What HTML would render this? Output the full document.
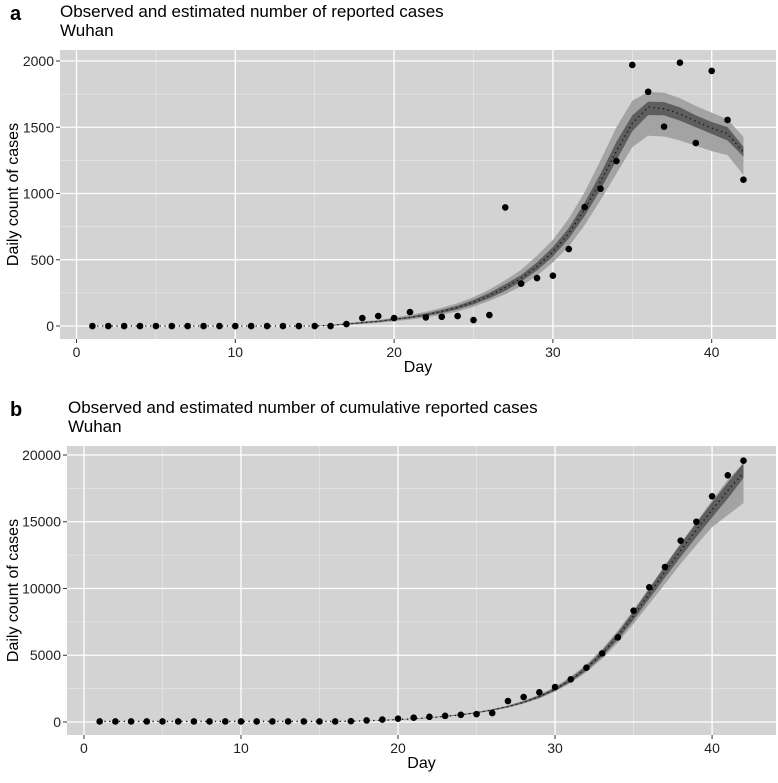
<!DOCTYPE html>
<html><head><meta charset="utf-8"><style>
body{margin:0;background:#fff;font-family:"Liberation Sans",Arial,sans-serif}
svg text{font-family:"Liberation Sans",Arial,sans-serif}
</style></head><body>
<svg id="svg" width="778" height="778" viewBox="0 0 778 778" xmlns="http://www.w3.org/2000/svg"></svg>
<script>
const days = Array.from({length:42},(_,i)=>i+1);
// Panel a: daily
const dailyObs = [0,0,0,0,0,0,0,0,0,0,0,0,0,0,0,0,15,60,75,60,105,65,70,75,45,83,895,320,362,380,581,898,1036,1245,1970,1768,1504,1987,1381,1925,1555,1104];
const dailyMean = [0,0,0,0,0,0,0,0,0,0,0,0,0,0,0,5,15,25,35,50,65,85,110,140,180,230,290,360,450,560,700,880,1090,1320,1530,1652,1640,1600,1545,1494,1450,1313];
const dailyLo95 = [0,0,0,0,0,0,0,0,0,0,0,0,0,0,0,0,8,16,24,36,48,64,84,110,145,190,240,300,380,480,600,760,950,1150,1350,1436,1430,1400,1360,1320,1290,1140];
const dailyHi95 = [0,0,0,0,0,0,0,0,0,0,0,0,0,0,0,10,22,34,46,64,84,108,138,172,218,275,345,425,530,650,810,1010,1250,1500,1700,1768,1760,1720,1660,1610,1560,1426];
const dailyLo50 = [0,0,0,0,0,0,0,0,0,0,0,0,0,0,0,3,12,20,30,44,58,76,98,126,163,210,265,335,420,525,660,830,1030,1250,1470,1592,1590,1550,1500,1450,1400,1278];
const dailyHi50 = [0,0,0,0,0,0,0,0,0,0,0,0,0,0,0,7,18,30,40,56,72,94,122,154,197,250,315,385,480,595,740,930,1150,1390,1590,1693,1690,1650,1590,1540,1500,1353];
const dailyTicksY = [0,500,1000,1500,2000];
// Panel b: cumulative
const cumObs = [41,41,41,41,41,41,41,41,41,41,41,41,41,41,41,41,60,120,180,250,320,390,460,540,590,670,1570,1870,2220,2620,3200,4070,5140,6340,8340,10090,11610,13580,15000,16906,18480,19573];
const cumMean = [41,41,41,41,41,41,41,41,41,41,41,41,41,41,41,41,60,90,130,180,240,320,420,540,700,900,1150,1480,1900,2450,3150,4030,5120,6440,7970,9610,11250,12850,14390,15890,17340,18650];
const cumLo95 = [41,41,41,41,41,41,41,41,41,41,41,41,41,41,41,41,55,82,120,166,222,296,390,500,650,835,1070,1380,1770,2280,2930,3740,4730,5950,7350,8850,10350,11850,13250,14600,15500,16400];
const cumHi95 = [41,41,41,41,41,41,41,41,41,41,41,41,41,41,41,41,65,96,140,195,260,345,455,585,760,975,1250,1600,2050,2650,3400,4330,5480,6850,8400,10050,11750,13400,15000,16600,18150,19400];
const cumLo50 = [41,41,41,41,41,41,41,41,41,41,41,41,41,41,41,41,58,86,124,172,230,305,400,515,670,860,1100,1410,1810,2340,3010,3850,4900,6170,7650,9230,10820,12370,13870,15330,16740,18280];
const cumHi50 = [41,41,41,41,41,41,41,41,41,41,41,41,41,41,41,41,62,94,136,188,250,335,440,565,730,940,1200,1550,1990,2560,3290,4210,5340,6710,8290,9990,11680,13330,14910,16450,17940,19400];
const cumTicksY = [0,5000,10000,15000,20000];
const xTicks = [0,10,20,30,40];

const svg = document.getElementById('svg');
const NS='http://www.w3.org/2000/svg';
function mk(tag,attrs,parent){const e=document.createElementNS(NS,tag);for(const k in attrs)e.setAttribute(k,attrs[k]);(parent||svg).appendChild(e);return e;}

function panel(cfg){
  const g=mk('g',{});
  
  
  const {L,R,T,B,xmin,xmax,ymin,ymax}=cfg;
  const sx=v=>L+(v-xmin)/(xmax-xmin)*(R-L);
  const sy=v=>B-(v-ymin)/(ymax-ymin)*(B-T);
  const bg=mk('rect',{x:L,y:T,width:R-L,height:B-T,fill:'#d3d3d3'},g);
  
  
  const step=cfg.yTicks[1]-cfg.yTicks[0];
  for(let v=cfg.yTicks[0]+step/2; sy(v)>T; v+=step){mk('line',{x1:L,x2:R,y1:sy(v),y2:sy(v),stroke:'#ececec','stroke-width':0.6},g);}
  for(let v=5; sx(v)<R; v+=10){mk('line',{x1:sx(v),x2:sx(v),y1:T,y2:B,stroke:'#ececec','stroke-width':0.6},g);}
  cfg.yTicks.forEach(v=>{
    mk('line',{x1:L,x2:R,y1:sy(v),y2:sy(v),stroke:'#fff','stroke-width':1.3},g);
    mk('line',{x1:L-4,x2:L,y1:sy(v),y2:sy(v),stroke:'#333','stroke-width':1},g);
    const t=mk('text',{x:L-6,y:sy(v)+5,'text-anchor':'end','font-size':14,fill:'#222'},g);t.textContent=v;
    
    
  });
  xTicks.forEach(v=>{
    mk('line',{x1:sx(v),x2:sx(v),y1:T,y2:B,stroke:'#fff','stroke-width':1.3},g);
    mk('line',{x1:sx(v),x2:sx(v),y1:B,y2:B+4,stroke:'#333','stroke-width':1},g);
    const t=mk('text',{x:sx(v),y:B+18,'text-anchor':'middle','font-size':14,fill:'#222'},g);t.textContent=v;
    
    
  });
  function band(lo,hi,fill,name){
    let d='M'+days.map((x,i)=>sx(x)+','+sy(hi[i])).join('L');
    d+='L'+days.slice().reverse().map((x,j)=>{const i=days.length-1-j;return sx(x)+','+sy(lo[i]);}).join('L')+'Z';
    const p=mk('path',{d,fill},g);
    
    
  }
  band(cfg.lo95,cfg.hi95,'#a3a3a3','ci-95-band');
  band(cfg.lo50,cfg.hi50,'#5e5e5e','ci-50-band');
  const ml=mk('path',{d:'M'+days.map((x,i)=>sx(x)+','+sy(cfg.mean[i])).join('L'),fill:'none',stroke:'#111','stroke-width':1.3,'stroke-dasharray':'1.3,3.5'},g);
  
  
  days.forEach((x,i)=>{
    const c=mk('circle',{cx:sx(x),cy:sy(cfg.obs[i]),r:3.3,fill:'#000'},g);
    
    
  });
  const lt=mk('text',{x:cfg.letterX,y:cfg.titleY,'font-size':20,'font-weight':'bold',fill:'#000'},g);lt.textContent=cfg.letter;
  
  
  const t1=mk('text',{x:cfg.titleX,y:cfg.titleY-3,'font-size':17,fill:'#000'},g);t1.textContent=cfg.title;
  
  
  const t2=mk('text',{x:cfg.titleX,y:cfg.titleY+16,'font-size':17,fill:'#000'},g);t2.textContent='Wuhan';
  
  
  const xt=mk('text',{x:(L+R)/2,y:B+33,'text-anchor':'middle','font-size':16,fill:'#000'},g);xt.textContent='Day';
  
  
  const yt=mk('text',{x:0,y:0,'text-anchor':'middle','font-size':16,fill:'#000',transform:`translate(${cfg.ytX},${(T+B)/2}) rotate(-90)`},g);yt.textContent=cfg.ytitle;
  
  
}
panel({name:'panel-a-daily',L:60,R:776,T:50,B:339,xmin:-1.04,xmax:44.05,ymin:-98,ymax:2083,yTicks:dailyTicksY,
  obs:dailyObs,mean:dailyMean,lo95:dailyLo95,hi95:dailyHi95,lo50:dailyLo50,hi50:dailyHi50,
  letter:'a',letterX:10,titleX:60,titleY:20,title:'Observed and estimated number of reported cases',ytitle:'Daily count of cases',ytX:18});
panel({name:'panel-b-cumulative',L:67,R:776,T:446,B:735,xmin:-1.08,xmax:44.07,ymin:-974,ymax:20674,yTicks:cumTicksY,
  obs:cumObs,mean:cumMean,lo95:cumLo95,hi95:cumHi95,lo50:cumLo50,hi50:cumHi50,
  letter:'b',letterX:10,titleX:68,titleY:416,title:'Observed and estimated number of cumulative reported cases',ytitle:'Daily  count of cases',ytX:18});
</script>
</body></html>
